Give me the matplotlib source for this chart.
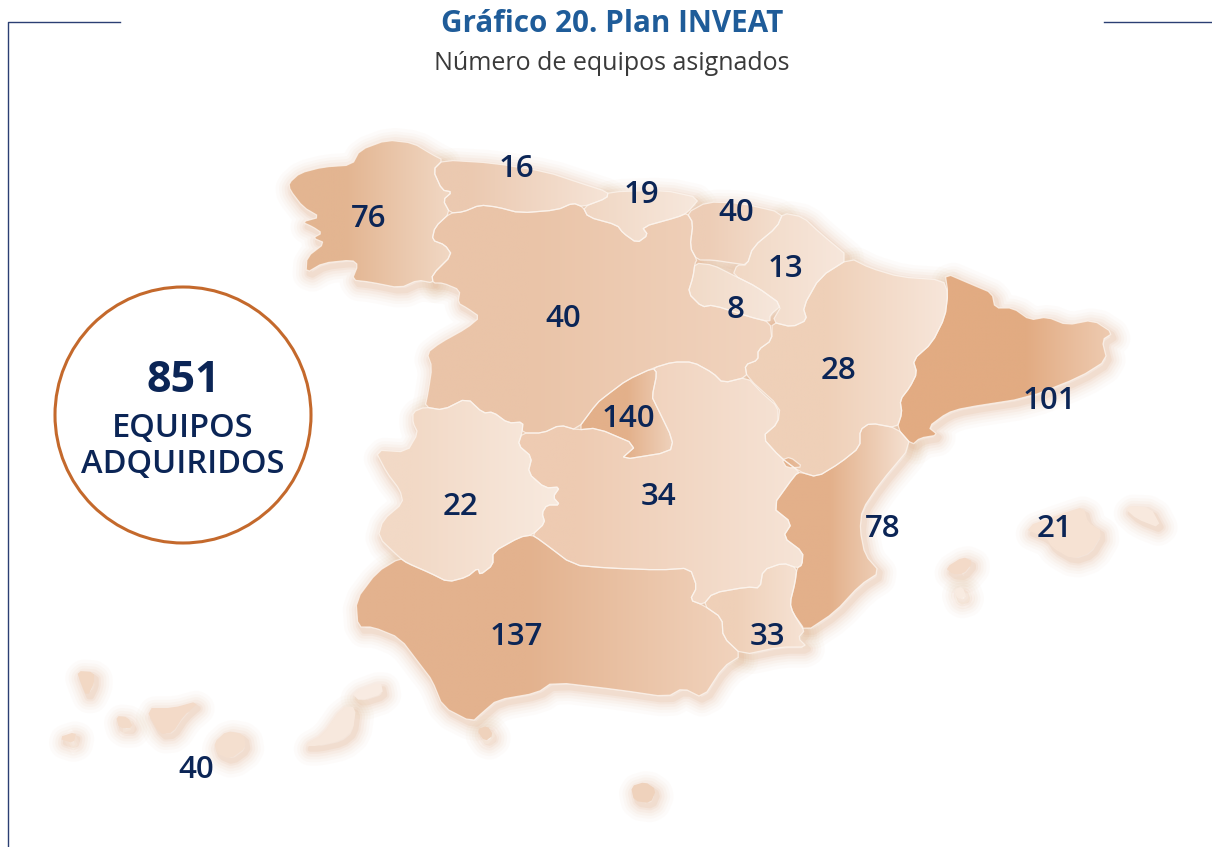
"""
Plan INVEAT map: equipment per autonomous community, drawn in pixel coordinates
"""
import numpy as np
import matplotlib
matplotlib.use('Agg')
import matplotlib.pyplot as plt
from matplotlib.patches import Polygon, Circle
from matplotlib.colors import LinearSegmentedColormap

plt.rcParams['font.family'] = ['Open Sans', 'DejaVu Sans']

title = 'Gráfico 20. Plan INVEAT'
subtitle = 'Número de equipos asignados'
total_value = '851'
total_text = ['EQUIPOS', 'ADQUIRIDOS']

# ------ values
region_names = ['galicia', 'asturias', 'cantabria', 'pvasco', 'navarra', 'rioja', 'cyl', 'aragon',
                'cataluna', 'madrid', 'clm', 'extremadura', 'valencia', 'baleares', 'andalucia',
                'murcia', 'canarias']
region_values = [76, 16, 19, 40, 13, 8, 40, 28, 101, 140, 34, 22, 78, 21, 137, 33, 40]

# ------ outlines
galicia = [(289,183),(300,173),(323,167),(352,165),(360,150),(387,140),(413,143),(433,155),(443,160),(433,170),
           (442,190),(452,192),(443,200),(450,213),(435,227),(432,240),(445,245),(452,255),(432,275),(433,283),
           (418,280),(400,288),(370,282),(352,280),(358,265),(352,260),(323,263),(306,273),(307,257),(325,243),
           (313,238),(322,233),(313,227),(302,222),(320,217),(303,207),(290,190)]
asturias = [(443,160),(493,163),(547,172),(580,183),(608,192),(607,198),(583,207),(573,203),(557,210),(520,213),
            (497,207),(480,205),(463,212),(450,213),(443,200),(452,192),(442,190),(433,170)]
cantabria = [(608,192),(663,190),(700,198),(687,213),(678,217),(642,227),(648,235),(637,243),(623,233),(617,225),
             (588,217),(583,207),(607,198)]
pvasco = [(687,213),(707,202),(740,203),(783,213),(777,227),(753,247),(747,265),(733,263),(713,260),(697,260),
          (690,247),(693,223)]
navarra = [(783,213),(803,217),(820,233),(850,258),(820,277),(803,307),(807,320),(792,327),(772,322),(782,305),
           (757,287),(733,275),(737,265),(747,265),(753,247),(777,227)]
rioja = [(695,263),(713,265),(733,275),(757,287),(782,305),(770,315),(770,322),(750,317),(713,305),(702,307),
         (688,293),(693,277)]
cyl = [(450,213),(463,212),(480,205),(497,207),(520,213),(557,210),(573,203),(583,207),(588,217),(617,225),
       (623,233),(637,243),(648,235),(642,227),(678,217),(687,213),(693,223),(690,247),(697,260),(695,263),
       (693,277),(688,293),(702,307),(713,305),(750,317),(770,322),(772,340),(758,350),(758,360),(745,365),
       (747,377),(723,383),(713,373),(693,362),(673,362),(653,368),(627,380),(607,395),(597,403),(577,430),
       (560,425),(543,433),(522,433),(523,422),(508,423),(493,412),(483,413),(467,398),(443,410),(425,407),
       (428,393),(432,367),(427,353),(440,343),(467,328),(480,317),(467,308),(458,303),(460,290),(443,283),
       (433,283),(432,275),(452,255),(445,245),(432,240),(435,227)]
aragon = [(850,258),(870,268),(900,277),(943,280),(948,293),(945,317),(932,343),(913,360),(917,373),(910,387),
          (900,400),(902,413),(897,428),(870,423),(860,430),(860,447),(840,463),(817,477),(800,472),(780,457),
          (762,437),(778,423),(780,407),(747,377),(745,365),(758,360),(758,350),(772,340),(772,322),(792,327),
          (807,320),(803,307),(820,277)]
cataluna = [(945,273),(973,285),(992,293),(995,308),(1013,308),(1030,320),(1047,317),(1067,325),(1093,320),
            (1113,333),(1102,340),(1107,360),(1080,377),(1027,398),(963,408),(947,413),(928,427),(938,435),
            (920,438),(912,445),(897,428),(902,413),(900,400),(910,387),(917,373),(913,360),(932,343),(945,317),
            (948,293)]
madrid = [(653,368),(657,373),(652,397),(655,403),(673,440),(670,452),(620,460),(637,445),(597,428),(577,430),
          (597,403),(607,395),(627,380)]
clm = [(653,368),(673,362),(693,362),(713,373),(723,383),(747,377),(762,393),(778,407),(778,423),(762,437),
       (780,457),(800,472),(795,475),(772,507),(792,523),(783,537),(803,552),(802,565),(797,568),(783,563),
       (763,570),(760,588),(747,587),(713,593),(703,605),(690,600),(697,587),(690,568),(660,570),(607,568),
       (573,565),(540,540),(532,535),(545,523),(542,513),(547,505),(560,505),(553,497),(560,487),(545,488),
       (528,473),(532,457),(518,445),(522,433),(543,433),(560,425),(577,430),(597,428),(637,445),(620,460),
       (670,452),(673,440),(655,403),(652,397),(657,373)]
extremadura = [(413,412),(425,407),(443,410),(467,398),(483,413),(493,412),(508,423),(523,422),(522,433),(518,445),
               (532,457),(528,473),(545,488),(560,487),(553,497),(560,505),(547,505),(542,513),(545,523),(532,535),
               (520,537),(493,552),(493,565),(480,575),(478,568),(467,577),(448,582),(430,573),(407,563),(400,558),
               (378,537),(383,520),(403,503),(400,490),(387,473),(375,450),(407,452),(418,433),(413,423)]
valencia = [(897,428),(912,445),(880,483),(862,510),(860,530),(865,555),(880,572),(860,585),(835,612),(805,632),
            (793,613),(790,603),(795,583),(797,568),(802,565),(803,552),(783,537),(792,523),(772,507),(795,475),
            (800,472),(817,477),(840,463),(860,447),(860,430),(870,423)]
ademuz = [(782,460),(790,457),(803,467),(787,468)]
andalucia = [(532,535),(540,540),(573,565),(607,568),(660,570),(690,568),(697,587),(690,600),(703,605),(722,618),
             (723,637),(742,655),(723,667),(703,698),(683,688),(667,697),(620,690),(553,682),(537,693),(497,700),
             (483,712),(472,722),(443,707),(432,680),(422,667),(400,638),(373,627),(358,627),(356,600),(377,572),
             (400,558),(407,563),(430,573),(448,582),(467,577),(478,568),(480,575),(493,565),(493,552),(520,537)]
murcia = [(703,605),(713,593),(747,587),(760,588),(763,570),(783,563),(797,568),(795,583),(790,603),(793,613),
          (805,630),(798,638),(807,647),(780,647),(742,655),(723,637),(722,618)]
mallorca = [(1025,528),(1067,513),(1083,508),(1087,523),(1102,532),(1090,552),(1072,558),(1053,547),(1047,537)]
menorca = [(1125,507),(1150,508),(1160,527),(1137,518)]
ibiza = [(947,568),(963,558),(972,562),(963,573),(953,573)]
formentera = [(955,590),(962,588),(965,596),(958,598)]
la_palma = [(78,672),(93,673),(93,683),(87,695),(82,683)]
gomera = [(117,717),(127,718),(132,727),(120,727)]
hierro = [(60,738),(75,733),(73,742)]
tenerife = [(147,709),(173,709),(198,702),(183,715),(172,732),(160,733)]
gran_canaria = [(215,743),(227,732),(243,735),(245,747),(230,758),(218,753)]
fuerteventura = [(305,745),(323,735),(342,708),(355,708),(352,730),(340,740),(317,745)]
lanzarote = [(353,693),(380,683),(382,693),(360,700)]
ceuta = [(478,730),(487,727),(492,735),(485,740)]
melilla = [(632,787),(645,783),(655,790),(650,802),(635,800)]

# outline, left colour, right colour, share of the width that stays flat
regions = [
    (galicia, '#e3b591', '#f1d8c4', 0.35), (asturias, '#ebc9b0', '#f6e4d7', 0.2), (cantabria, '#f0d6c2', '#f7e8dd', 0),
    (pvasco, '#edcdb6', '#f4dfcf', 0.2), (navarra, '#f1d8c4', '#f7e7dc', 0), (rioja, '#f1dac7', '#f6e7dc', 0),
    (cyl, '#eac4a8', '#f1d4bf', 0.3), (aragon, '#efd0b8', '#f7e6da', 0.4), (cataluna, '#e2ab82', '#eecbb1', 0.6),
    (madrid, '#e3b08a', '#efd2bc', 0.5), (clm, '#eecbb2', '#f6e4d7', 0.2), (extremadura, '#f2d9c6', '#f8eadf', 0.2),
    (valencia, '#e3b08a', '#f5e1d2', 0.4), (ademuz, '#e3b08a', '#e8bd9d', 0), (andalucia, '#e3b28e', '#f1d3bd', 0.45),
    (murcia, '#efd0b8', '#f6e3d5', 0.3),
]
islands = [
    (mallorca, '#f6e2d3'), (menorca, '#f8e9de'), (ibiza, '#f3dac8'), (formentera, '#f8ebe1'), (la_palma, '#f2d8c4'),
    (gomera, '#f3dbc9'), (hierro, '#f3dbc9'), (tenerife, '#f3dac8'), (gran_canaria, '#f4dfcf'),
    (fuerteventura, '#f7e8dd'), (lanzarote, '#f8ebe2'), (ceuta, '#efd2bc'), (melilla, '#efd2bc'),
]

label_x = [369, 516, 641, 736, 785, 736, 563, 839, 1049, 628, 658, 460, 883, 1055, 516, 767, 196]
label_y = [219, 169, 195, 213, 269, 310, 319, 371, 401, 419, 497, 507, 529, 529, 637, 637, 770]

navy = '#0b2556'
frame = '#2b3f73'
grad = np.linspace(0, 1, 256).reshape(1, -1)


def soften(pts, cut=0.2):
    # one pass of corner cutting so the traced outlines do not look like polygons
    pts = np.array(pts, dtype=float)
    nxt = np.roll(pts, -1, axis=0)
    out = np.empty((len(pts) * 2, 2))
    out[0::2] = pts + cut * (nxt - pts)
    out[1::2] = pts + (1 - cut) * (nxt - pts)
    return out


fig = plt.figure(figsize=(12.12, 8.47), dpi=100)
ax = fig.add_axes([0, 0, 1, 1])
ax.axis('off')

# soft halo under the land, slightly to the lower right
all_pts = [r[0] for r in regions] + [i[0] for i in islands]
for lw, a in [(24, 0.04), (19, 0.05), (15, 0.06), (11, 0.08), (7, 0.10), (4, 0.14)]:
    for pts in all_pts:
        ax.add_patch(Polygon(soften(pts) + [3, 4], closed=True, fc='none', ec='#e2b08a', lw=lw, alpha=a,
                             joinstyle='round', zorder=1))

for pts, c0, c1, flat in regions:
    pts = soften(pts)
    stops = [(0, c0), (1, c1)] if flat == 0 else [(0, c0), (flat, c0), (1, c1)]
    cmap = LinearSegmentedColormap.from_list('r', stops)
    clip = Polygon(pts, closed=True, fc='none', ec='none', transform=ax.transData)
    ax.add_patch(clip)
    im = ax.imshow(grad, extent=(pts[:, 0].min(), pts[:, 0].max(), pts[:, 1].max(), pts[:, 1].min()),
                   cmap=cmap, aspect='auto', zorder=2, interpolation='bilinear')
    im.set_clip_path(clip)
    ax.add_patch(Polygon(pts, closed=True, fc='none', ec='#fdf6f0', lw=0.9, alpha=0.75, zorder=3))

for pts, c in islands:
    ax.add_patch(Polygon(soften(pts), closed=True, fc=c, ec=c, lw=1.5, zorder=2))

ax.set_xlim(0, 1212)
ax.set_ylim(847, 0)

# frame lines
ax.plot([8, 8, 120], [847, 22, 22], color=frame, lw=1.0, zorder=5)
ax.plot([1104, 1212], [22, 22], color=frame, lw=1.0, zorder=5)

ax.text(612, 24, title, ha='center', va='center', fontsize=21.3, fontweight='bold', color='#1f5c99')
ax.text(612, 63, subtitle, ha='center', va='center', fontsize=18, color='#3a3a3a')

ax.add_patch(Circle((183, 415), 128, fc='white', ec='#c4692c', lw=2.2, zorder=4))
ax.text(183, 381, total_value, ha='center', va='center', fontsize=31, fontweight='bold', color=navy, zorder=6)
ax.text(183, 428, total_text[0], ha='center', va='center', fontsize=23.5, fontweight=600, color=navy, zorder=6)
ax.text(183, 464, total_text[1], ha='center', va='center', fontsize=23.5, fontweight=600, color=navy, zorder=6)

for x, y, v in zip(label_x, label_y, region_values):
    ax.text(x, y, str(v), ha='center', va='center', fontsize=22.5, fontweight=600, color=navy, zorder=6)

fig.savefig('out.png', dpi=100)
